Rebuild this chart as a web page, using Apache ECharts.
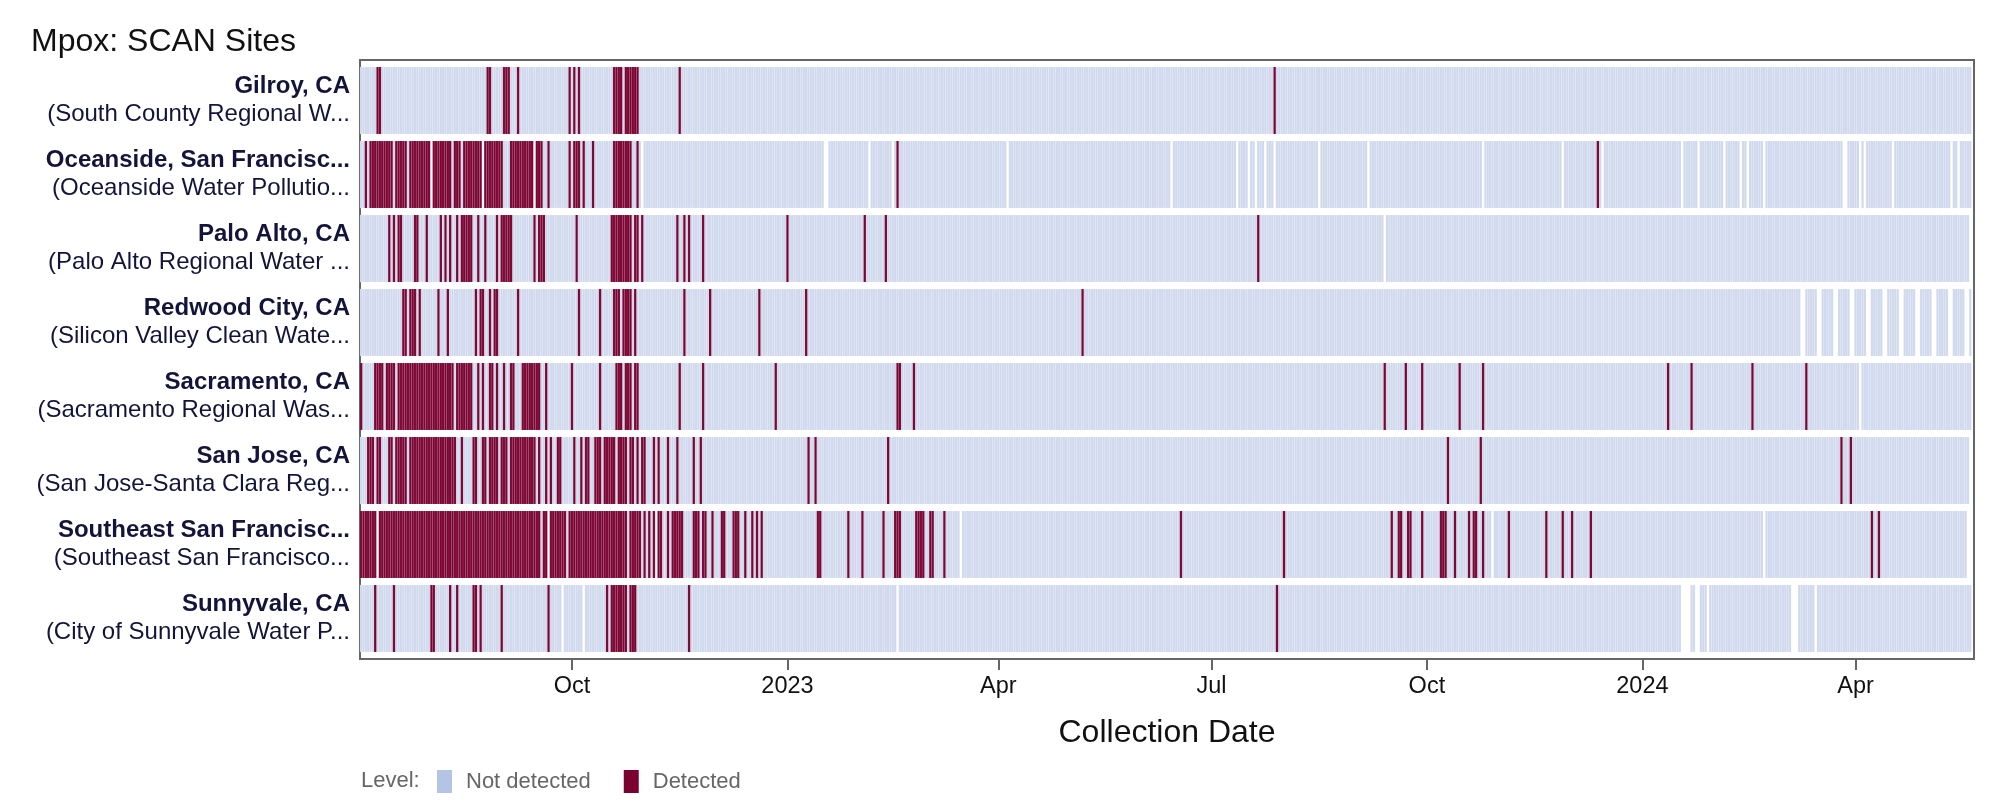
<!DOCTYPE html>
<html>
<head>
<meta charset="utf-8">
<script src="https://cdn.jsdelivr.net/npm/echarts@6/dist/echarts.min.js"></script>
<style>
html,body{margin:0;padding:0;background:#fff;}
#chart{width:2016px;height:810px;}
</style>
</head>
<body>
<div id="chart"></div>
<script>
// ---------- DATA ----------
const siteNames = ['Gilroy, CA','Oceanside, San Francisc...','Palo Alto, CA','Redwood City, CA','Sacramento, CA','San Jose, CA','Southeast San Francisc...','Sunnyvale, CA'];
const plantNames = ['(South County Regional W...','(Oceanside Water Pollutio...','(Palo Alto Regional Water ...','(Silicon Valley Clean Wate...','(Sacramento Regional Was...','(San Jose-Santa Clara Reg...','(Southeast San Francisco...','(City of Sunnyvale Water P...'];
const siteStart = ['2022-07-03','2022-07-03','2022-07-03','2022-07-03','2022-07-03','2022-07-03','2022-07-03','2022-07-03'];
const siteEnd = ['2024-05-20','2024-05-20','2024-05-19','2024-05-20','2024-05-20','2024-05-19','2024-05-18','2024-05-20'];
const levels = ['Not detected','Detected'];
const tickDates = ['2022-10-01','2023-01-01','2023-04-01','2023-07-01','2023-10-01','2024-01-01','2024-04-01'];
const tickLabels = ['Oct','2023','Apr','Jul','Oct','2024','Apr'];

const gilroyDetected = ['2022-07-10/2022-07-11','2022-08-26/2022-08-27','2022-09-02/2022-09-04','2022-09-08','2022-09-30','2022-10-02','2022-10-04','2022-10-19/2022-10-22','2022-10-24/2022-10-29','2022-11-16','2023-07-28'];
const gilroyMissing = [];

const oceansideDetected = ['2022-07-05','2022-07-07/2022-07-16','2022-07-18/2022-07-22','2022-07-24/2022-08-01','2022-08-03/2022-08-10','2022-08-12/2022-08-14','2022-08-16/2022-08-23','2022-08-25/2022-09-01','2022-09-05/2022-09-14','2022-09-16/2022-09-18','2022-09-21','2022-09-30','2022-10-02/2022-10-04','2022-10-06','2022-10-10','2022-10-19/2022-10-26','2022-10-29','2023-02-17','2023-12-13'];
const oceansideMissing = ['2022-08-02','2022-08-24','2022-09-15','2022-10-31','2023-01-17/2023-01-18','2023-02-05','2023-02-15','2023-04-05','2023-06-14','2023-07-12','2023-07-17','2023-07-20','2023-07-24','2023-07-28','2023-08-16','2023-09-06','2023-10-25','2023-11-28','2023-12-15','2024-01-18','2024-01-25','2024-02-05','2024-02-12','2024-02-15','2024-02-22','2024-03-27/2024-03-28','2024-04-03','2024-04-05','2024-04-17','2024-05-12','2024-05-15'];

const paloAltoDetected = ['2022-07-15','2022-07-17','2022-07-19/2022-07-20','2022-07-26/2022-07-27','2022-07-31','2022-08-06','2022-08-08','2022-08-10','2022-08-13','2022-08-15/2022-08-19','2022-08-22','2022-08-25','2022-08-30','2022-09-01/2022-09-05','2022-09-15','2022-09-17/2022-09-19','2022-10-03','2022-10-18/2022-10-26','2022-10-28/2022-10-29','2022-10-31','2022-11-15','2022-11-18','2022-11-20','2022-11-26','2023-01-01','2023-02-03','2023-02-12','2023-07-21'];
const paloAltoMissing = ['2023-09-13'];

const redwoodDetected = ['2022-07-21/2022-07-22','2022-07-24/2022-07-26','2022-07-28','2022-08-05','2022-08-09','2022-08-21','2022-08-23/2022-08-24','2022-08-27','2022-08-29/2022-08-30','2022-09-08','2022-10-04','2022-10-13','2022-10-19/2022-10-21','2022-10-23/2022-10-26','2022-10-28','2022-11-18','2022-11-29','2022-12-20','2023-01-09','2023-05-07'];
const redwoodMissing = ['2024-03-09/2024-03-10','2024-03-16/2024-03-17','2024-03-23/2024-03-24','2024-03-30/2024-03-31','2024-04-06/2024-04-07','2024-04-13/2024-04-14','2024-04-20/2024-04-21','2024-04-27/2024-04-28','2024-05-04/2024-05-05','2024-05-11/2024-05-12','2024-05-18/2024-05-19'];

const sacramentoDetected = ['2022-07-03','2022-07-09/2022-07-12','2022-07-14/2022-07-17','2022-07-19/2022-08-11','2022-08-13/2022-08-19','2022-08-22','2022-08-24','2022-08-27/2022-08-28','2022-08-30','2022-09-02','2022-09-05/2022-09-06','2022-09-10/2022-09-17','2022-09-20','2022-10-01','2022-10-13','2022-10-20/2022-10-22','2022-10-24/2022-10-26','2022-10-28/2022-10-29','2022-11-16','2022-11-26','2022-12-27','2023-02-17/2023-02-18','2023-02-24','2023-09-13','2023-09-22','2023-09-29','2023-10-15','2023-10-25','2024-01-12','2024-01-22','2024-02-17','2024-03-11'];
const sacramentoMissing = ['2024-04-03'];

const sanJoseDetected = ['2022-07-06/2022-07-08','2022-07-10/2022-07-11','2022-07-15/2022-07-16','2022-07-18/2022-07-22','2022-07-24/2022-08-12','2022-08-15','2022-08-20/2022-08-21','2022-08-24/2022-08-25','2022-08-27/2022-08-30','2022-09-01/2022-09-03','2022-09-05/2022-09-15','2022-09-17','2022-09-20','2022-09-22','2022-09-25/2022-09-26','2022-10-02','2022-10-05','2022-10-07/2022-10-08','2022-10-11/2022-10-13','2022-10-15/2022-10-19','2022-10-21/2022-10-24','2022-10-26/2022-10-27','2022-10-29','2022-10-31/2022-11-01','2022-11-05','2022-11-07','2022-11-11','2022-11-15','2022-11-22','2022-11-25','2023-01-10','2023-01-13','2023-02-13','2023-10-10','2023-10-24','2024-03-26','2024-03-30'];
const sanJoseMissing = [];

const southeastDetected = ['2022-07-03/2022-07-09','2022-07-11/2022-09-17','2022-09-19/2022-09-20','2022-09-22/2022-09-28','2022-09-30/2022-10-24','2022-10-26/2022-10-30','2022-11-01','2022-11-03','2022-11-05','2022-11-07/2022-11-08','2022-11-11','2022-11-13/2022-11-17','2022-11-22/2022-11-24','2022-11-26/2022-11-27','2022-11-30','2022-12-04/2022-12-05','2022-12-09/2022-12-11','2022-12-14','2022-12-17','2022-12-19','2022-12-21','2023-01-14/2023-01-15','2023-01-27','2023-02-02','2023-02-11','2023-02-16/2023-02-18','2023-02-25/2023-02-28','2023-03-03/2023-03-04','2023-03-09','2023-06-18','2023-08-01','2023-09-16','2023-09-19/2023-09-20','2023-09-23/2023-09-24','2023-09-29','2023-10-07/2023-10-09','2023-10-13','2023-10-19','2023-10-21/2023-10-22','2023-10-25','2023-11-05','2023-11-21','2023-11-28','2023-12-02','2023-12-10','2024-04-08','2024-04-11'];
const southeastMissing = ['2022-07-10','2022-09-21','2022-11-06','2023-03-16','2023-10-29','2024-02-22'];

const sunnyvaleDetected = ['2022-07-09','2022-07-17','2022-08-02/2022-08-03','2022-08-10','2022-08-13','2022-08-20/2022-08-21','2022-08-23','2022-09-01','2022-09-21','2022-10-16','2022-10-18/2022-10-24','2022-10-26/2022-10-28','2022-11-20','2023-07-29'];
const sunnyvaleMissing = ['2022-09-27','2022-10-06','2023-02-17','2024-01-18/2024-01-21','2024-01-24/2024-01-25','2024-01-29','2024-03-05/2024-03-07','2024-03-15'];

const detectedBySite = [gilroyDetected, oceansideDetected, paloAltoDetected, redwoodDetected, sacramentoDetected, sanJoseDetected, southeastDetected, sunnyvaleDetected];
const missingBySite = [gilroyMissing, oceansideMissing, paloAltoMissing, redwoodMissing, sacramentoMissing, sanJoseMissing, southeastMissing, sunnyvaleMissing];

// ---------- BUILD ----------
function ymd(s){ const p = s.split('-').map(Number); return [p[0], p[1]-1, p[2]]; }
function ts(s){ const p = ymd(s); return new Date(p[0], p[1], p[2]).getTime(); }
function expand(list){
  const set = new Set();
  list.forEach(item => {
    const parts = item.split('/');
    const a = ymd(parts[0]);
    const endT = ts(parts[1] || parts[0]);
    for (let i = 0; ; i++) {
      const t = new Date(a[0], a[1], a[2] + i).getTime();
      if (t > endT) break;
      set.add(t);
    }
  });
  return set;
}
const notDetData = [], detData = [];
siteNames.forEach((name, row) => {
  const det = expand(detectedBySite[row]);
  const miss = expand(missingBySite[row]);
  const a = ymd(siteStart[row]);
  const endT = ts(siteEnd[row]);
  for (let i = 0; ; i++) {
    const t = new Date(a[0], a[1], a[2] + i).getTime();
    if (t > endT) break;
    if (miss.has(t)) continue;
    (det.has(t) ? detData : notDetData).push([t, row]);
  }
});

const HALF = 12 * 3600 * 1000;
function makeRenderer(strokeColor){
  return function(params, api){
    const t = api.value(0), row = api.value(1);
    const a = api.coord([t - HALF, row]);
    const b = api.coord([t + HALF, row]);
    const h = api.size([0, 1])[1] * 67 / 74;
    return {
      type: 'rect',
      shape: { x: a[0], y: a[1] - h / 2, width: b[0] - a[0], height: h },
      style: { fill: api.visual('color'), stroke: strokeColor, lineWidth: 0.5 }
    };
  };
}

const xMin = new Date(2022, 6, 2, 12).getTime();
const xMax = new Date(2024, 4, 21, 14).getTime();
const tickTs = tickDates.map(ts);
const FONT = "'Liberation Sans', Arial, Helvetica, sans-serif";
const TXT = '#14143a';

const chart = echarts.init(document.getElementById('chart'), null, { renderer: 'canvas' });
chart.setOption({
  animation: false,
  backgroundColor: '#fff',
  textStyle: { fontFamily: FONT },
  title: [
    { text: 'Mpox: SCAN Sites', left: 31, top: 26, padding: 0,
      textStyle: { fontSize: 32, fontWeight: 'normal', color: '#111', fontFamily: FONT } },
    { text: 'Level:', left: 361, top: 770, padding: 0,
      textStyle: { fontSize: 22, fontWeight: 'normal', color: '#666', fontFamily: FONT } }
  ],
  legend: {
    left: 437, top: 770, padding: 0,
    icon: 'rect', itemWidth: 15, itemHeight: 23, itemGap: 33,
    selectedMode: false,
    textStyle: { fontSize: 22, color: '#666', fontFamily: FONT, padding: [0, 0, 0, 9] },
    data: [
      { name: levels[0], itemStyle: { color: '#b4c4e4', borderWidth: 0 } },
      { name: levels[1], itemStyle: { color: '#7a0030', borderWidth: 0 } }
    ]
  },
  grid: [
    { left: 360, top: 60, width: 1614, height: 599, show: true, borderColor: '#666', borderWidth: 2, backgroundColor: 'transparent' },
    { left: 360, top: 63.5, width: 1614, height: 592 }
  ],
  xAxis: [
    { gridIndex: 0, type: 'value', min: xMin, max: xMax, scale: true,
      axisLine: { show: false }, splitLine: { show: false },
      axisTick: { show: true, length: 11, lineStyle: { color: '#666', width: 2 }, customValues: tickTs },
      axisLabel: { customValues: tickTs, margin: 16, fontSize: 23.5, color: '#111', fontFamily: FONT,
        formatter: v => { const i = tickTs.indexOf(v); return i >= 0 ? tickLabels[i] : ''; } },
      name: 'Collection Date', nameLocation: 'middle', nameGap: 58,
      nameTextStyle: { fontSize: 32, color: '#111', fontFamily: FONT } },
    { gridIndex: 1, type: 'value', min: xMin, max: xMax, scale: true, show: false }
  ],
  yAxis: [
    { gridIndex: 0, type: 'value', show: false, min: 0, max: 1 },
    { gridIndex: 1, type: 'category', data: siteNames, inverse: true,
      axisLine: { show: false }, axisTick: { show: false }, splitLine: { show: false },
      axisLabel: {
        margin: 10,
        formatter: (v, i) => '{b|' + siteNames[i] + '}\n{n|' + plantNames[i] + '}',
        rich: {
          b: { fontSize: 24, fontWeight: 'bold', color: TXT, lineHeight: 28, fontFamily: FONT, align: 'right' },
          n: { fontSize: 24, fontWeight: 'normal', color: TXT, lineHeight: 28, fontFamily: FONT, align: 'right' }
        }
      } }
  ],
  series: [
    { name: levels[0], type: 'custom', xAxisIndex: 1, yAxisIndex: 1, renderItem: makeRenderer('rgba(255,255,255,0.28)'),
      itemStyle: { color: '#cfd8ed' }, encode: { x: 0, y: 1 }, data: notDetData, clip: true },
    { name: levels[1], type: 'custom', xAxisIndex: 1, yAxisIndex: 1, renderItem: makeRenderer('rgba(255,255,255,0.12)'),
      itemStyle: { color: '#7b0634' }, encode: { x: 0, y: 1 }, data: detData, clip: true, z: 3 }
  ]
});
</script>
</body>
</html>
